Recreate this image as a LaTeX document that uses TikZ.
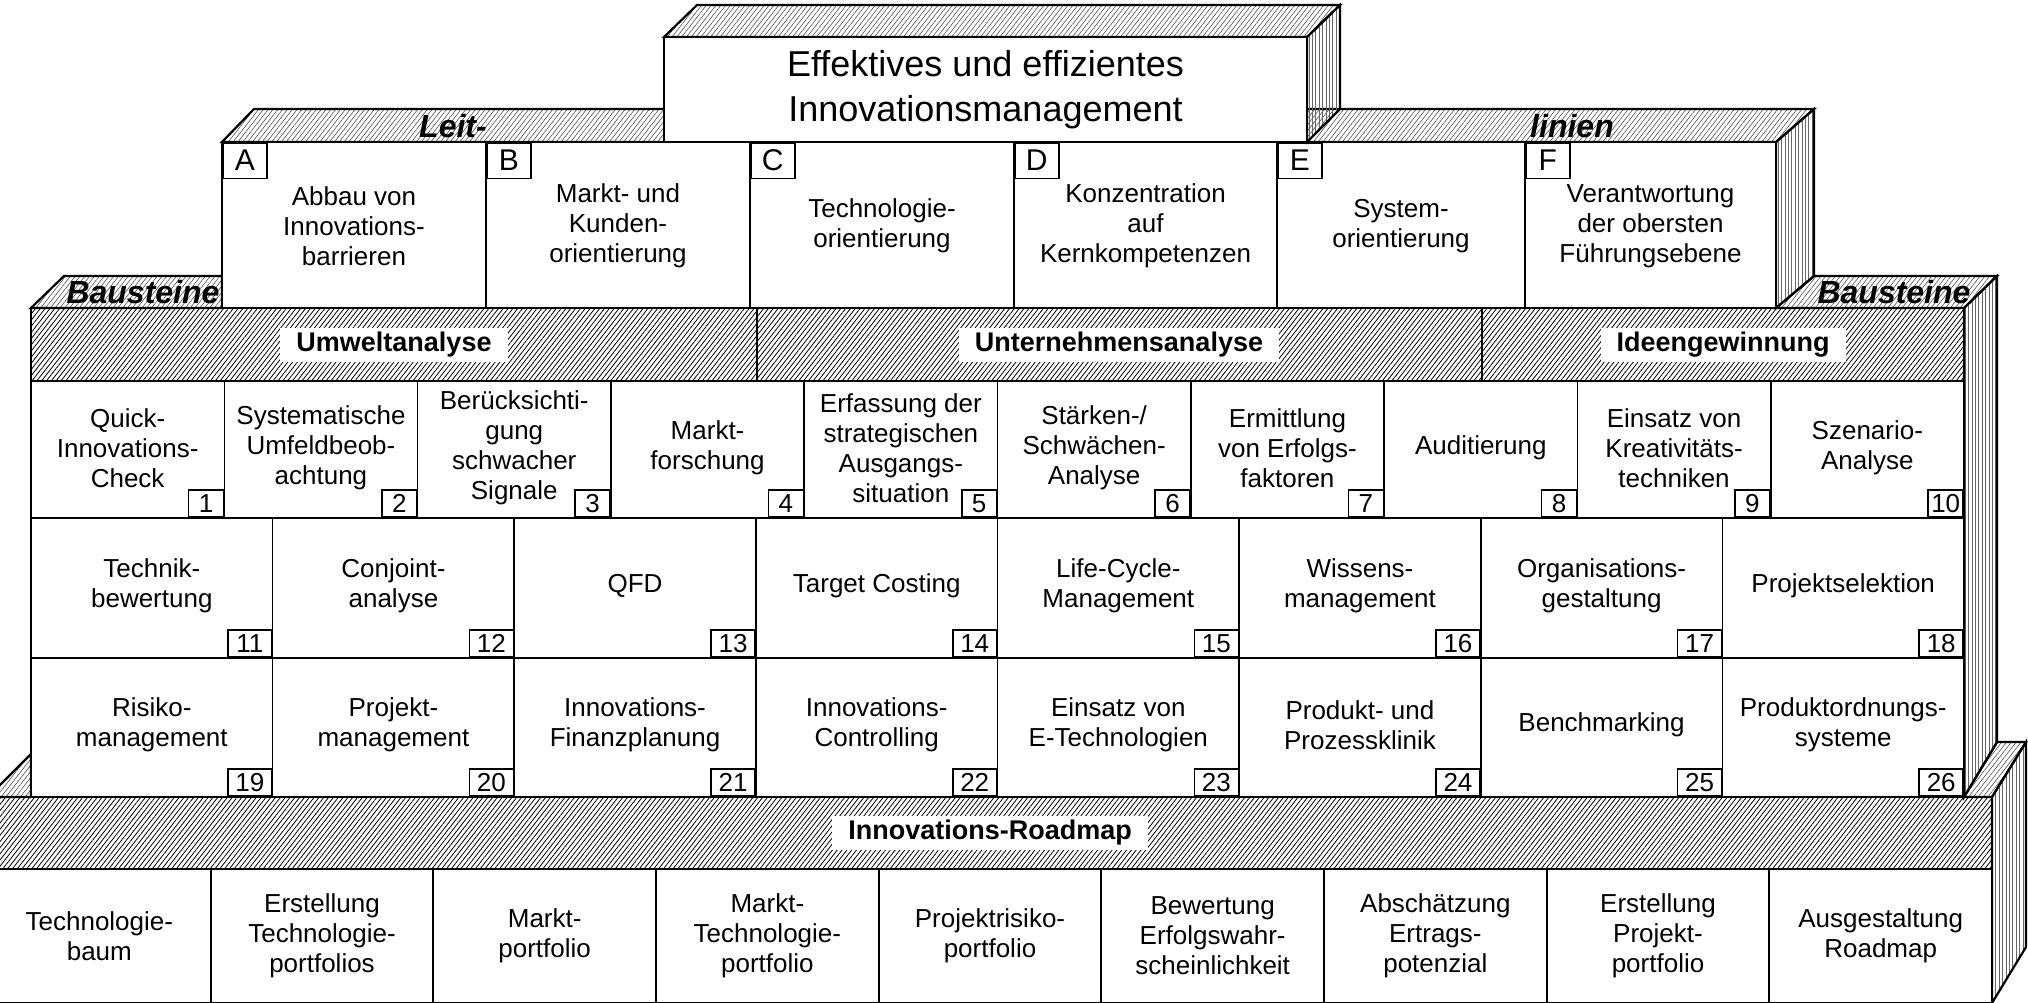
\documentclass[tikz,border=0pt]{standalone}
\usepackage{fontspec}
\setmainfont{Liberation Sans}
\usetikzlibrary{patterns.meta}
\tikzset{
  edge/.style={line width=1.1pt, line join=miter},
  cellline/.style={line width=0.8pt},
  tophatch/.style={pattern={Lines[angle=52,distance=1.9pt,line width=0.32pt]}, pattern color=black!65},
  bandhatch/.style={pattern={Lines[angle=52,distance=1.9pt,line width=0.4pt]}, pattern color=black},
  sidehatch/.style={pattern={Lines[angle=90,distance=1.7pt,line width=0.4pt]}, pattern color=black!60},
  celltext/.style={align=center, font=\fontsize{13}{15}\selectfont, inner sep=0pt},
  titletext/.style={align=center, font=\fontsize{18}{22.5}\selectfont, inner sep=0pt},
  numbox/.style={draw, line width=0.8pt, fill=white, minimum height=13.5pt, inner sep=0pt, font=\fontsize{13}{13}\selectfont},
  letterbox/.style={draw, line width=0.8pt, fill=white, minimum width=22pt, minimum height=17.8pt, inner sep=0pt, font=\fontsize{15}{15}\selectfont},
  bandlabel/.style={fill=white, inner xsep=8pt, inner ysep=0pt, minimum height=17pt, font=\bfseries\fontsize{13.5}{14}\selectfont},
  sidelabel/.style={font=\bfseries\itshape\fontsize{16}{16}\selectfont, inner sep=1pt},
}
\begin{document}
\begin{tikzpicture}[x=0.5pt,y=-0.5pt]
\useasboundingbox (0,0) rectangle (2028,1002);
\clip (0,0) rectangle (2028,1002);

% ---------------- Roadmap block ----------------
\draw[edge, tophatch] (-12,797) -- (31,754) -- (31,797) -- cycle;
\draw[edge, tophatch] (1964,797) -- (1997,742) -- (2026,742) -- (1992,797) -- cycle;
\draw[edge, sidehatch] (1992,797) -- (2026,742) -- (2026,947) -- (1992,1003) -- cycle;
\draw[edge, bandhatch] (-12,797) rectangle (1992,869);
\node[bandlabel] (roadmaplabel) at (990,833) {Innovations-Roadmap};
\foreach \t [count=\i from 0] in {{Technologie-\\baum},{Erstellung\\Technologie-\\portfolios},{Markt-\\portfolio},{Markt-\\Technologie-\\portfolio},{Projektrisiko-\\portfolio},{Bewertung\\Erfolgswahr-\\scheinlichkeit},{Abschätzung\\Ertrags-\\potenzial},{Erstellung\\Projekt-\\portfolio},{Ausgestaltung\\Roadmap}}{
  \pgfmathsetmacro{\xa}{-12+\i*222.667}
  \pgfmathsetmacro{\xb}{\xa+222.667}
  \pgfmathsetmacro{\xm}{\xa+111.333}
  \draw[edge, fill=white] (\xa,869) rectangle (\xb,1003);
  \node[celltext] (rm\i) at (\xm,936) {\t};
}

% ---------------- Bausteine block ----------------
\draw[edge, tophatch] (31,308) -- (64,276) -- (222,276) -- (222,308) -- cycle;
\node[sidelabel] (bausteinL) at (143,292) {Bausteine};
\draw[edge, tophatch] (1776,308) -- (1814,276) -- (1997,276) -- (1964,308) -- cycle;
\node[sidelabel] (bausteinR) at (1894,292) {Bausteine};
\draw[edge, sidehatch] (1964,308) -- (1997,276) -- (1997,742) -- (1964,797) -- cycle;

\draw[edge, bandhatch] (31,308) rectangle (1964,381);
\draw[edge] (756.9,308) -- (756.9,381);
\draw[edge] (1481.6,308) -- (1481.6,381);
\node[bandlabel] (umwelt) at (394,345) {Umweltanalyse};
\node[bandlabel] (unternehmen) at (1119,345) {Unternehmensanalyse};
\node[bandlabel] (ideen) at (1723,345) {Ideengewinnung};

% row 1
\foreach \t [count=\i from 0] in {{Quick-\\Innovations-\\Check},{Systematische\\Umfeldbeob-\\achtung},{Berücksichti-\\gung\\schwacher\\Signale},{Markt-\\forschung},{Erfassung der\\strategischen\\Ausgangs-\\situation},{Stärken-/\\Schwächen-\\Analyse},{Ermittlung\\von Erfolgs-\\faktoren},{Auditierung},{Einsatz von\\Kreativitäts-\\techniken},{Szenario-\\Analyse}}{
  \pgfmathsetmacro{\xa}{31+\i*193.3}
  \pgfmathsetmacro{\xb}{\xa+193.3}
  \pgfmathsetmacro{\xm}{\xa+96.65}
  \pgfmathtruncatemacro{\n}{\i+1}
  \draw[cellline, fill=white] (\xa,381) rectangle (\xb,518);
  \node[celltext] (ra\n) at (\xm,448) {\t};
  \node[numbox, minimum width=17.5pt, anchor=south east] (na\n) at (\xb,518) {\n};
}
% row 2
\foreach \t [count=\i from 0] in {{Technik-\\bewertung},{Conjoint-\\analyse},{QFD},{Target Costing},{Life-Cycle-\\Management},{Wissens-\\management},{Organisations-\\gestaltung},{Projektselektion}}{
  \pgfmathsetmacro{\xa}{31+\i*241.625}
  \pgfmathsetmacro{\xb}{\xa+241.625}
  \pgfmathsetmacro{\xm}{\xa+120.81}
  \pgfmathtruncatemacro{\n}{\i+11}
  \draw[cellline, fill=white] (\xa,518) rectangle (\xb,658);
  \node[celltext] (rb\n) at (\xm,586) {\t};
  \node[numbox, minimum width=22pt, anchor=south east] (nb\n) at (\xb,658) {\n};
}
% row 3
\foreach \t [count=\i from 0] in {{Risiko-\\management},{Projekt-\\management},{Innovations-\\Finanzplanung},{Innovations-\\Controlling},{Einsatz von\\E-Technologien},{Produkt- und\\Prozessklinik},{Benchmarking},{Produktordnungs-\\systeme}}{
  \pgfmathsetmacro{\xa}{31+\i*241.625}
  \pgfmathsetmacro{\xb}{\xa+241.625}
  \pgfmathsetmacro{\xm}{\xa+120.81}
  \pgfmathtruncatemacro{\n}{\i+19}
  \draw[cellline, fill=white] (\xa,658) rectangle (\xb,797);
  \node[celltext] (rc\n) at (\xm,725) {\t};
  \node[numbox, minimum width=22pt, anchor=south east] (nc\n) at (\xb,797) {\n};
}
\draw[edge] (31,308) rectangle (1964,797);

% ---------------- Leitlinien block ----------------
\draw[edge, tophatch] (222,142) -- (254,109) -- (1814,109) -- (1776,142) -- cycle;
\draw[edge, sidehatch] (1776,142) -- (1814,109) -- (1814,276) -- (1776,308) -- cycle;
\node[sidelabel] (leit) at (453,126) {Leit-};
\node[sidelabel] (linien) at (1572,126) {linien};
\foreach \xa/\xb/\L/\t in {222/486/A/{Abbau von\\Innovations-\\barrieren},486/750/B/{Markt- und\\Kunden-\\orientierung},750/1014/C/{Technologie-\\orientierung},1014/1277/D/{Konzentration\\auf\\Kernkompetenzen},1277/1525/E/{System-\\orientierung},1525/1776/F/{Verantwortung\\der obersten\\Führungsebene}}{
  \pgfmathsetmacro{\xm}{(\xa+\xb)/2}
  \draw[edge, fill=white] (\xa,142) rectangle (\xb,308);
  \node[celltext] (ll\L) at (\xm,226) {\t};
  \node[letterbox, anchor=north west] (lb\L) at (\xa,142) {\L};
}

% ---------------- Top block ----------------
\draw[edge, tophatch] (664,37) -- (697,5) -- (1340,5) -- (1307,37) -- cycle;
\draw[edge, sidehatch] (1307,37) -- (1340,5) -- (1340,109) -- (1307,142) -- cycle;
\draw[edge, fill=white] (664,37) rectangle (1307,142);
\node[titletext] (title) at (985.5,90) {Effektives und effizientes\\Innovationsmanagement};
\end{tikzpicture}
\end{document}
